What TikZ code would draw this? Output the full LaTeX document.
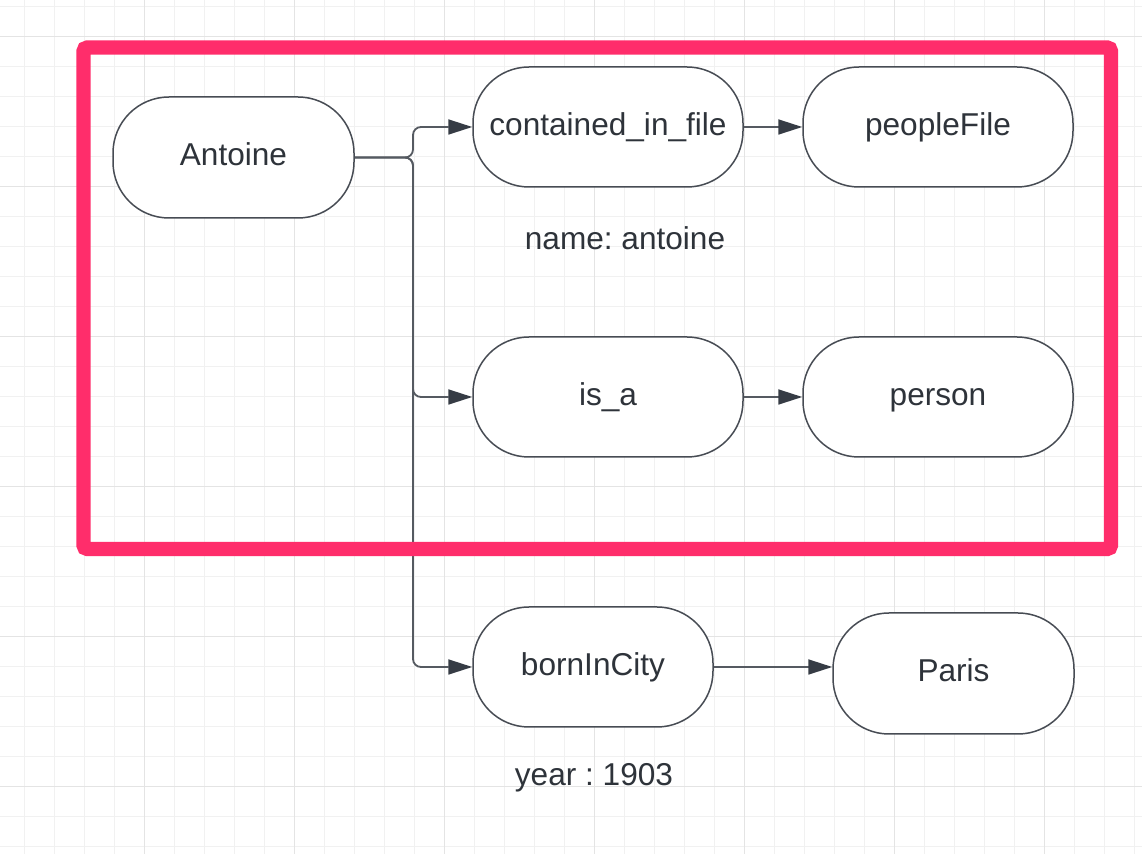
\documentclass[tikz,border=0pt]{standalone}
\usepackage{fontspec}
\setmainfont{Liberation Sans}
\frenchspacing
\usetikzlibrary{arrows.meta}
\definecolor{gridminor}{HTML}{F1F1F1}
\definecolor{gridmajor}{HTML}{E4E4E4}
\definecolor{framered}{HTML}{FF2D6B}
\definecolor{nodeline}{HTML}{474C54}
\definecolor{connline}{HTML}{555A61}
\definecolor{tipcol}{HTML}{363C45}
\definecolor{txtcol}{HTML}{2E333A}
\tikzset{
  term/.style={draw=nodeline, line width=0.75pt, fill=white, rounded corners=28pt,
    minimum width=135pt, minimum height=60pt, inner sep=0pt,
    text=txtcol, font=\fontsize{15.8}{19}\selectfont\frenchspacing, text height=11.3pt, text depth=3pt},
  termsmall/.style={term, minimum width=120.5pt, minimum height=60.5pt},
  conn/.style={draw=connline, line width=0.9pt, rounded corners=4pt,
    -{Triangle[length=12pt,width=7.5pt,color=tipcol]}},
  plaintxt/.style={text=txtcol, font=\fontsize{15.8}{19}\selectfont\frenchspacing, inner sep=0pt, anchor=base},
  redframe/.style={draw=framered, line width=7.2pt, rounded corners=2pt,
    minimum width=513.75pt, minimum height=250.75pt, inner sep=0pt}
}
\begin{document}
\begin{tikzpicture}[x=0.5pt,y=-0.5pt]
\useasboundingbox (0,0) rectangle (1142,854);
\fill[white] (0,0) rectangle (1142,854);
% grid
\foreach \gx in {24,54,...,1134} \draw[gridminor, line width=0.5pt] (\gx,0) -- (\gx,854);
\foreach \gy in {7,37,...,847} \draw[gridminor, line width=0.5pt] (0,\gy) -- (1142,\gy);
\foreach \gx in {144,294,...,1044} \draw[gridmajor, line width=0.5pt] (\gx,0) -- (\gx,854);
\foreach \gy in {37,187,...,787} \draw[gridmajor, line width=0.5pt] (0,\gy) -- (1142,\gy);

% nodes
\node[termsmall] (antoine) at (233.5,157.5) {Antoine};
\node[term] (cif) at (608,127) {contained\_in\_file};
\node[term] (pf) at (938,127) {peopleFile};
\node[term] (isa) at (608,397) {is\_a};
\node[term] (person) at (938,397) {person};
\node[term, minimum width=120pt] (born) at (593,667) {bornInCity};
\node[termsmall] (paris) at (953.5,673.5) {Paris};

\node[plaintxt] (namelbl) at (625,250) {name: antoine};
\node[plaintxt] (yearlbl) at (594,786) {year : 1903};

% junction coordinate
\coordinate (trunk) at (413,157.5);

% connectors
\draw[conn] (antoine.east) -- (trunk) |- (cif.west);
\draw[conn] (antoine.east) -- (trunk) |- (isa.west);
\draw[conn] (antoine.east) -- (trunk) |- (born.west);
\draw[conn] (cif.east) -- (pf.west);
\draw[conn] (isa.east) -- (person.west);
\draw[conn] (born.east) -- (born.east -| paris.west);

% red frame
\node[redframe] (frame) at (597.25,298.25) {};
\end{tikzpicture}
\end{document}
